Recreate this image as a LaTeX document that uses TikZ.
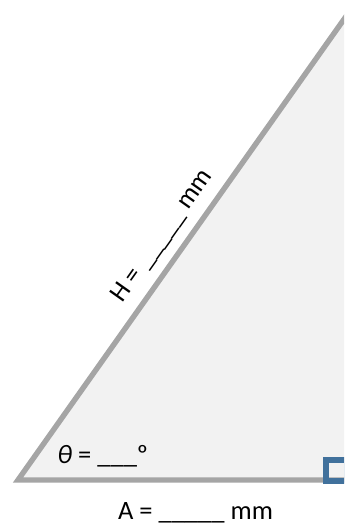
\documentclass[tikz,border=0pt]{standalone}
\usepackage{fontspec}
\setmainfont{Carlito}
\definecolor{triFill}{HTML}{F2F2F2}
\definecolor{triEdge}{HTML}{A5A5A5}
\definecolor{markBlue}{HTML}{41719C}

\begin{document}
\begin{tikzpicture}[x=0.5pt, y=-0.5pt,
    lbl/.style={inner sep=0pt, font=\fontsize{13.25}{16}\selectfont}]
    \useasboundingbox (0,0) rectangle (344,523);
    \clip (0,0) rectangle (344,523);
    % corners of the triangle
    \coordinate (B) at (18,480);
    \coordinate (C) at (347,480);
    \coordinate (T) at (347,15);
    \filldraw[fill=triFill, draw=triEdge, line width=2.7pt] (B) -- (C) -- (T) -- cycle;
    % right angle mark
    \draw[markBlue, line width=3pt] (326,460) rectangle (347,481);
    % labels
    \node[lbl, rotate=54.7, anchor=base] (hyp) at (168,240) {H = \_\_\_\_\_ mm};
    \node[lbl, anchor=base west] (ang) at (57,463) {\textit{θ} = \_\_\_º};
    \node[lbl, anchor=base] (adj) at (195.5,519) {A = \_\_\_\_\_ mm};
\end{tikzpicture}
\end{document}
